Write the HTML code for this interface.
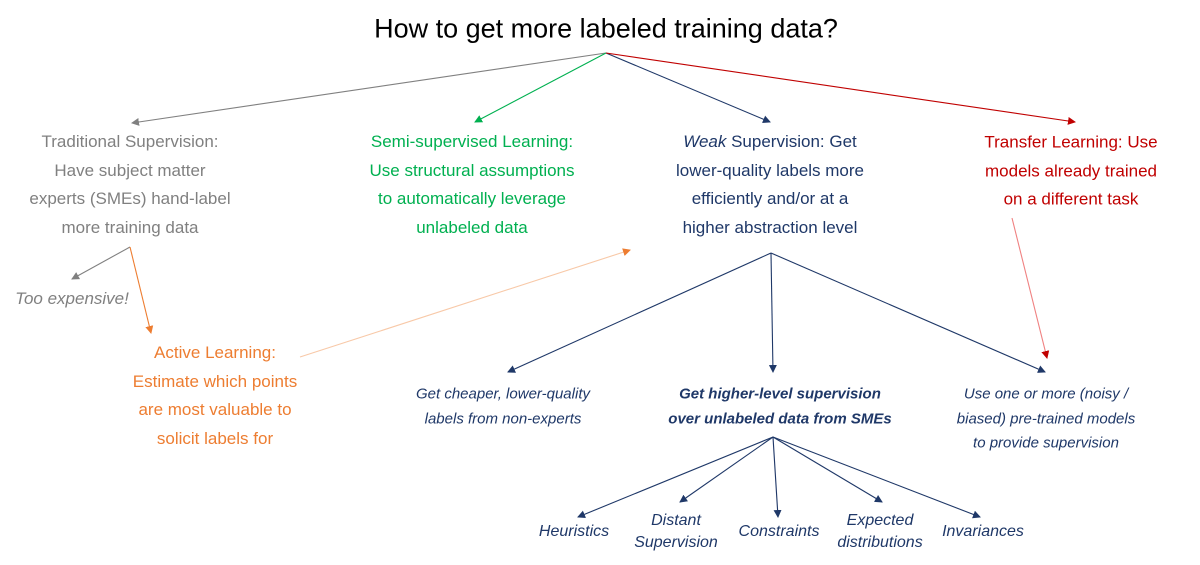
<!DOCTYPE html>
<html><head><meta charset="utf-8"><style>
body{margin:0;width:1200px;height:565px;background:#fff;position:relative;overflow:hidden;font-family:"Liberation Sans",sans-serif}
.t{position:absolute;transform:translate(-50%,-50%);white-space:nowrap;text-align:center}
.b{font-size:17px;line-height:28.5px}
.s{font-size:15px;line-height:24.5px;font-style:italic;color:#1f3868}
.l{font-size:16px;line-height:22px;font-style:italic;color:#1f3868}
svg{position:absolute;left:0;top:0}
</style></head><body>
<svg width="1200" height="565">
<defs>
<marker id="g" markerWidth="8" markerHeight="8" refX="7" refY="4" orient="auto" markerUnits="userSpaceOnUse"><path d="M0,0L8,4L0,8z" fill="#808080"/></marker>
<marker id="gr" markerWidth="8" markerHeight="8" refX="7" refY="4" orient="auto" markerUnits="userSpaceOnUse"><path d="M0,0L8,4L0,8z" fill="#00b050"/></marker>
<marker id="n" markerWidth="8" markerHeight="8" refX="7" refY="4" orient="auto" markerUnits="userSpaceOnUse"><path d="M0,0L8,4L0,8z" fill="#1f3868"/></marker>
<marker id="r" markerWidth="8" markerHeight="8" refX="7" refY="4" orient="auto" markerUnits="userSpaceOnUse"><path d="M0,0L8,4L0,8z" fill="#c00000"/></marker>
<marker id="o" markerWidth="8" markerHeight="8" refX="7" refY="4" orient="auto" markerUnits="userSpaceOnUse"><path d="M0,0L8,4L0,8z" fill="#ed7d31"/></marker>
</defs>
<g stroke-width="1.1" fill="none">
<line x1="606" y1="53" x2="132" y2="123" stroke="#808080" marker-end="url(#g)"/>
<line x1="606" y1="53" x2="475" y2="122" stroke="#00b050" marker-end="url(#gr)"/>
<line x1="606" y1="53" x2="770" y2="122" stroke="#1f3868" marker-end="url(#n)"/>
<line x1="606" y1="53" x2="1075" y2="122" stroke="#c00000" marker-end="url(#r)"/>
<line x1="130" y1="247" x2="72" y2="279" stroke="#808080" marker-end="url(#g)"/>
<line x1="130" y1="247" x2="151" y2="333" stroke="#ed7d31" marker-end="url(#o)"/>
<line x1="300" y1="357" x2="630" y2="250" stroke="#f8c9a8" marker-end="url(#o)"/>
<line x1="771" y1="253" x2="508" y2="372" stroke="#1f3868" marker-end="url(#n)"/>
<line x1="771" y1="253" x2="773" y2="372" stroke="#1f3868" marker-end="url(#n)"/>
<line x1="771" y1="253" x2="1045" y2="372" stroke="#1f3868" marker-end="url(#n)"/>
<line x1="1012" y1="218" x2="1047" y2="358" stroke="#f08080" marker-end="url(#r)"/>
<line x1="773" y1="437" x2="578" y2="517" stroke="#1f3868" marker-end="url(#n)"/>
<line x1="773" y1="437" x2="680" y2="502" stroke="#1f3868" marker-end="url(#n)"/>
<line x1="773" y1="437" x2="778" y2="517" stroke="#1f3868" marker-end="url(#n)"/>
<line x1="773" y1="437" x2="882" y2="502" stroke="#1f3868" marker-end="url(#n)"/>
<line x1="773" y1="437" x2="980" y2="517" stroke="#1f3868" marker-end="url(#n)"/>
</g></svg>
<div class="t" style="left:606px;top:29px;font-size:27px">How to get more labeled training data?</div>
<div class="t b" style="left:130px;top:185px;color:#808080">Traditional Supervision:<br>Have subject matter<br>experts (SMEs) hand-label<br>more training data</div>
<div class="t b" style="left:472px;top:185px;color:#00b050">Semi-supervised Learning:<br>Use structural assumptions<br>to automatically leverage<br>unlabeled data</div>
<div class="t b" style="left:770px;top:185px;color:#1f3868"><i>Weak</i> Supervision: Get<br>lower-quality labels more<br>efficiently and/or at a<br>higher abstraction level</div>
<div class="t b" style="left:1071px;top:171px;color:#c00000">Transfer Learning: Use<br>models already trained<br>on a different task</div>
<div class="t" style="left:72px;top:299px;font-size:17px;font-style:italic;color:#808080">Too expensive!</div>
<div class="t b" style="left:215px;top:396px;color:#ed7d31">Active Learning:<br>Estimate which points<br>are most valuable to<br>solicit labels for</div>
<div class="t s" style="left:503px;top:407px">Get cheaper, lower-quality<br>labels from non-experts</div>
<div class="t s" style="left:780px;top:407px;font-weight:bold">Get higher-level supervision<br>over unlabeled data from SMEs</div>
<div class="t s" style="left:1046px;top:419px">Use one or more (noisy /<br>biased) pre-trained models<br>to provide supervision</div>
<div class="t l" style="left:574px;top:532px">Heuristics</div>
<div class="t l" style="left:676px;top:532px">Distant<br>Supervision</div>
<div class="t l" style="left:779px;top:532px">Constraints</div>
<div class="t l" style="left:880px;top:532px">Expected<br>distributions</div>
<div class="t l" style="left:983px;top:532px">Invariances</div>
</body></html>
